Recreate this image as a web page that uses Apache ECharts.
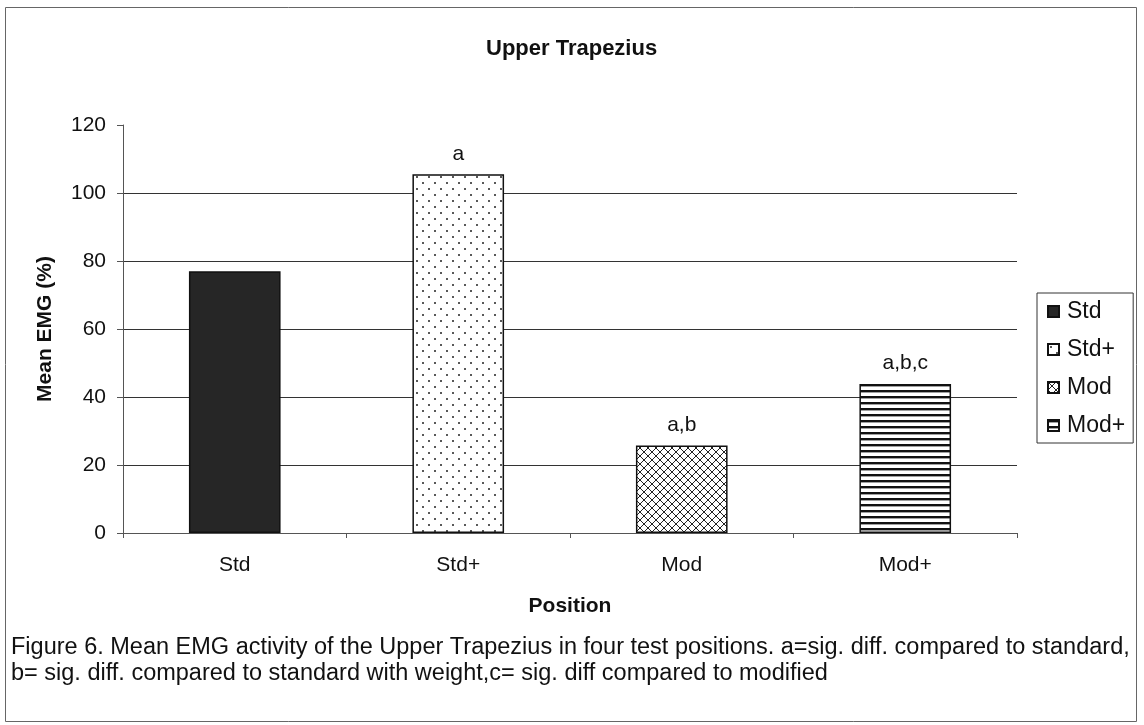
<!DOCTYPE html>
<html>
<head>
<meta charset="utf-8">
<script src="https://cdn.jsdelivr.net/npm/echarts@6/dist/echarts.min.js"></script>
<style>
html,body{margin:0;padding:0;background:#fff;}
#chart{width:1144px;height:725px;}
</style>
</head>
<body>
<div id="chart"></div>
<script>
// ---- data ----
var categories = ['Std', 'Std+', 'Mod', 'Mod+'];
var meanEMG = [77, 105.5, 25.7, 43.8];
var sigLabels = ['', 'a', 'a,b', 'a,b,c'];
var yTicks = [0, 20, 40, 60, 80, 100, 120];
var titleText = 'Upper Trapezius';
var yAxisTitle = 'Mean EMG (%)';
var xAxisTitle = 'Position';
var captionLines = [
  'Figure 6. Mean EMG activity of the Upper Trapezius in four test positions. a=sig. diff. compared to standard,',
  'b= sig. diff. compared to standard with weight,c= sig. diff compared to modified'
];

// ---- patterns ----
function makeTile(w, h, draw) {
  var c = document.createElement('canvas');
  c.width = w; c.height = h;
  var ctx = c.getContext('2d');
  ctx.fillStyle = '#fff';
  ctx.fillRect(0, 0, w, h);
  draw(ctx, w, h);
  return c;
}
var dotsTile = makeTile(12, 12, function (ctx) {
  ctx.fillStyle = '#222';
  ctx.beginPath(); ctx.arc(3, 3, 1.0, 0, Math.PI * 2); ctx.fill();
  ctx.beginPath(); ctx.arc(9, 9, 1.0, 0, Math.PI * 2); ctx.fill();
});
var crossTile = makeTile(8, 8, function (ctx, w, h) {
  ctx.strokeStyle = '#222';
  ctx.lineWidth = 1;
  ctx.beginPath();
  for (var k = -1; k <= 1; k++) {
    ctx.moveTo(k * w, 0); ctx.lineTo(k * w + w, h);
    ctx.moveTo(k * w, h); ctx.lineTo(k * w + w, 0);
  }
  ctx.stroke();
});
var stripeTile = makeTile(6, 6, function (ctx) {
  ctx.fillStyle = '#111';
  ctx.fillRect(0, 0, 6, 2.4);
});
var fills = [
  '#262626',
  { image: dotsTile, repeat: 'repeat' },
  { image: crossTile, repeat: 'repeat' },
  { image: stripeTile, repeat: 'repeat' }
];

var FONT = "'Liberation Sans', Arial, sans-serif";

var series = categories.map(function (name, i) {
  return {
    name: name,
    type: 'bar',
    barWidth: '41%',
    barGap: '-100%',
    data: categories.map(function (c, j) { return j === i ? meanEMG[i] : '-'; }),
    itemStyle: { color: fills[i], borderColor: '#111', borderWidth: 1.5 },
    label: {
      show: sigLabels[i] !== '',
      position: 'top',
      distance: 10,
      formatter: sigLabels[i],
      color: '#111',
      fontSize: 21,
      fontFamily: FONT
    },
    emphasis: { disabled: true },
    animation: false
  };
});

var chart = echarts.init(document.getElementById('chart'), null, { renderer: 'canvas' });
chart.setOption({
  backgroundColor: '#fff',
  animation: false,
  title: {
    text: titleText,
    left: 481,
    top: 33,
    textStyle: { fontFamily: FONT, fontSize: 22, fontWeight: 'bold', color: '#111' }
  },
  legend: {
    orient: 'vertical',
    left: 1037,
    top: 293,
    padding: [7, 8, 6, 10],
    itemGap: 15,
    itemWidth: 11,
    itemHeight: 11,
    borderColor: '#333',
    borderWidth: 1,
    icon: 'rect',
    data: categories,
    textStyle: { fontFamily: FONT, fontSize: 23, color: '#111', padding: [0, 0, 0, 3] }
  },
  grid: { left: 123, right: 127, top: 125, bottom: 192, containLabel: false },
  xAxis: {
    type: 'category',
    data: categories,
    name: xAxisTitle,
    nameLocation: 'middle',
    nameGap: 63,
    nameTextStyle: { fontFamily: FONT, fontSize: 21, fontWeight: 'bold', color: '#111' },
    axisLine: { lineStyle: { color: '#555', width: 1 } },
    axisTick: { show: true, length: 5, interval: 0, lineStyle: { color: '#555' } },
    axisLabel: { margin: 22, fontFamily: FONT, fontSize: 21, color: '#111' },
    splitLine: { show: false }
  },
  yAxis: {
    type: 'value',
    min: yTicks[0],
    max: yTicks[yTicks.length - 1],
    interval: yTicks[1] - yTicks[0],
    name: yAxisTitle,
    nameLocation: 'middle',
    nameRotate: 90,
    nameGap: 67,
    nameTextStyle: { fontFamily: FONT, fontSize: 21, fontWeight: 'bold', color: '#111' },
    axisLine: { show: true, lineStyle: { color: '#555', width: 1 } },
    axisTick: { show: true, length: 6, lineStyle: { color: '#555' } },
    axisLabel: { margin: 17, fontFamily: FONT, fontSize: 21, color: '#111' },
    splitLine: { show: true, showMaxLine: false, lineStyle: { color: '#333', width: 1 } }
  },
  graphic: [
    {
      type: 'rect',
      shape: { x: 5.5, y: 7.5, width: 1131, height: 714 },
      style: { fill: 'none', stroke: '#666', lineWidth: 1 },
      silent: true,
      z: -1
    },
    {
      type: 'text',
      left: 11,
      top: 636,
      style: { text: captionLines[0], fontFamily: FONT, fontSize: 23.5, fill: '#111' }
    },
    {
      type: 'text',
      left: 11,
      top: 662,
      style: { text: captionLines[1], fontFamily: FONT, fontSize: 23.5, fill: '#111' }
    }
  ],
  series: series
});
</script>
</body>
</html>
